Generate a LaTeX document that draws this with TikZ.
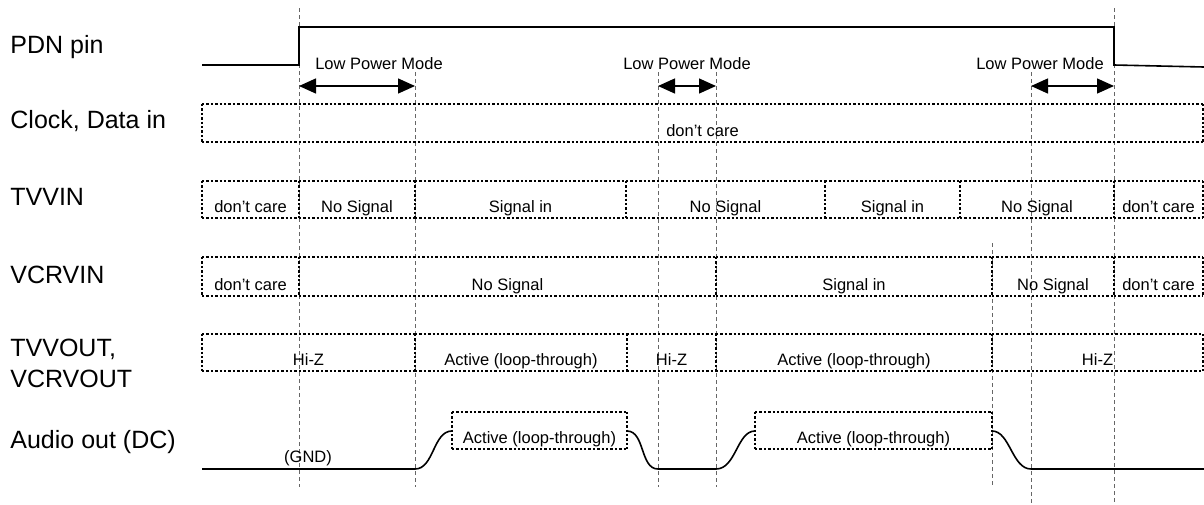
\documentclass[tikz,border=0pt]{standalone}
\usepackage{fontspec}
\setmainfont{Liberation Sans}
\usetikzlibrary{arrows.meta}

\tikzset{
  sig/.style={line width=0.8pt},
  guide/.style={gray!80!black, line width=0.35pt, dash pattern=on 2pt off 1.5pt},
  seg/.style={line width=1.4pt, dash pattern=on 1.2pt off 1pt},
  lab/.style={anchor=base west, inner sep=0pt, font=\fontsize{12.5}{15.5}\selectfont},
  small/.style={anchor=base, inner sep=0pt, font=\fontsize{8.25}{10}\selectfont},
  lpm/.style={line width=0.7pt, {Triangle[length=8.5pt,width=7.5pt]}-{Triangle[length=8.5pt,width=7.5pt]}}
}

% one row of dotted state boxes: name, top, bottom, list of from/to/text
\newcommand{\segrow}[4]{%
  \foreach \a/\b/\txt [count=\i] in {#4} {
    \draw[seg] (\a,#2) -- (\b,#2);
    \draw[seg] (\a,#3) -- (\b,#3);
    \draw[seg] (\a,#2) -- (\a,#3);
    \draw[seg] (\b,#2) -- (\b,#3);
    \node[small] (#1-\i) at ({(\a+\b)/2},#3-6) {\txt};
  }}

\begin{document}
\begin{tikzpicture}[x=0.5pt, y=-0.5pt]
    \useasboundingbox (0,0) rectangle (1204,504);

    % time marks
    \foreach \x/\ya/\yb in {299/8/487, 415/72/487, 658/72/487, 716/72/487,
                            992/243/487, 1031/72/504, 1114/8/504}
        \draw[guide] (\x,\ya) -- (\x,\yb);

    % signal names
    \node[lab] (pdn) at (10,53) {PDN pin};
    \node[lab] (clk) at (10,128) {Clock, Data in};
    \node[lab] (tvvin) at (10,205) {TVVIN};
    \node[lab] (vcrvin) at (10,283) {VCRVIN};
    \node[lab, anchor=west, align=left] (tvvout) at (10,363.5) {TVVOUT,\\VCRVOUT};
    \node[lab] (audio) at (10,448) {Audio out (DC)};

    % PDN
    \draw[sig] (202,65) -- (299,65) -- (299,27) -- (1114,27) -- (1114,65) -- (1204,67);
    \node[small] (lpm1) at (379,69) {Low Power Mode};
    \node[small] (lpm2) at (687,69) {Low Power Mode};
    \node[small] (lpm3) at (1040,69) {Low Power Mode};
    \draw[lpm] (299,86) -- (415,86);
    \draw[lpm] (658,86) -- (716,86);
    \draw[lpm] (1031,86) -- (1114,86);

    \segrow{clk}{104}{142}{202/1203/don’t care}
    \segrow{tvvin}{181}{218}{202/299/don’t care, 299/415/No Signal, 415/626/Signal in,
        626/825/No Signal, 825/960/Signal in, 960/1114/No Signal, 1114/1203/don’t care}
    \segrow{vcrvin}{257}{296}{202/299/don’t care, 299/716/No Signal, 716/992/Signal in,
        992/1114/No Signal, 1114/1203/don’t care}
    \segrow{tvvout}{334}{371}{202/415/Hi-Z, 415/627/Active (loop-through), 627/716/Hi-Z,
        716/992/Active (loop-through), 992/1203/Hi-Z}

    % audio
    \segrow{aud}{412}{449}{452/627/Active (loop-through), 755/992/Active (loop-through)}
    \node[small] (gnd) at (308,462) {(GND)};
    \draw[sig] (202,469) -- (415,469) .. controls (434,469) and (433,431) .. (452,431);
    \draw[sig] (627,431) .. controls (645,431) and (640,469) .. (658,469) -- (716,469)
        .. controls (736,469) and (737,431) .. (755,431);
    \draw[sig] (992,431) .. controls (1010,431) and (1012,469) .. (1031,469) -- (1204,469);
\end{tikzpicture}
\end{document}
